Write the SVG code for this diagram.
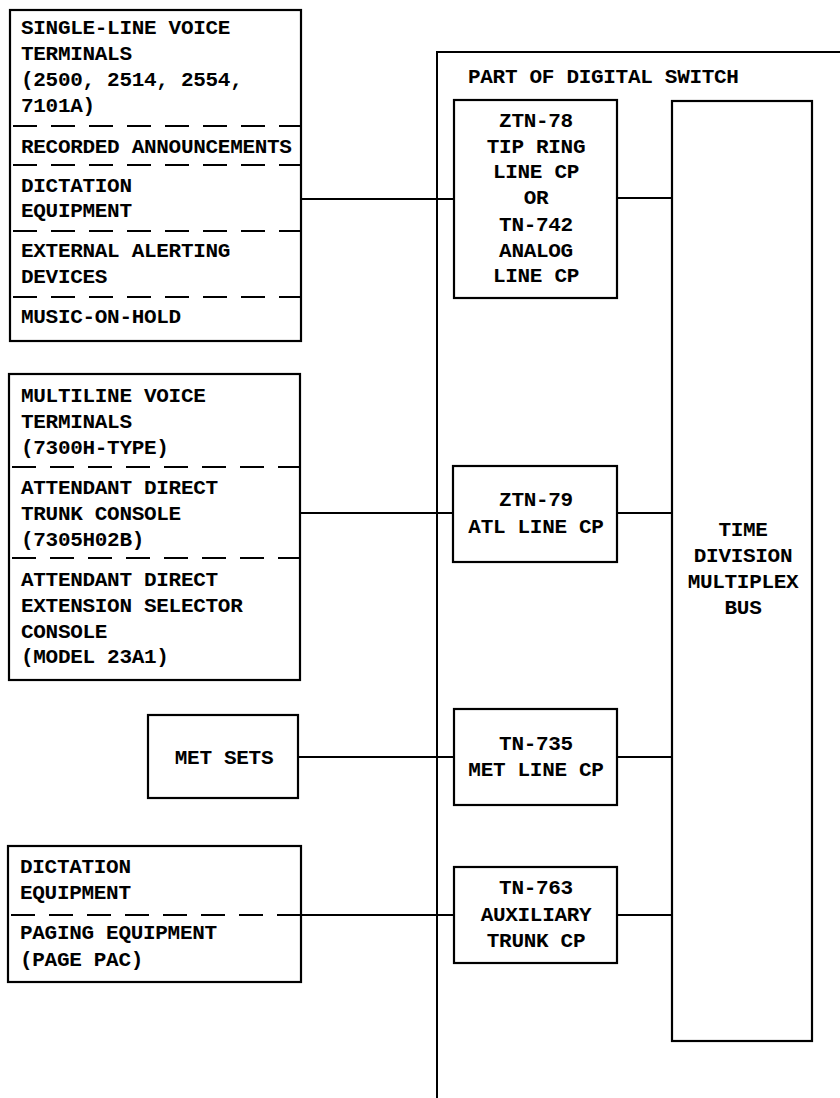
<svg xmlns="http://www.w3.org/2000/svg" width="840" height="1098" viewBox="0 0 840 1098">
<style>
.b{fill:none;stroke:#000;stroke-width:2.2}
.d{fill:none;stroke:#000;stroke-width:2.2;stroke-dasharray:24 14}
.l{fill:none;stroke:#000;stroke-width:2}
text{font-family:"Liberation Mono","DejaVu Sans Mono",monospace;font-weight:bold;font-size:21px;letter-spacing:-0.3px;fill:#000}
.c{text-anchor:middle}
</style>
<rect width="840" height="1098" fill="#fff"/>
<g id="switch">
<path class="l" d="M437 1098 V52 H840"/>
<text x="468" y="83">PART OF DIGITAL SWITCH</text>
</g>
<g id="connectors">
<path class="l" d="M301 199 H454 M617 198 H672"/>
<path class="l" d="M300 513 H453 M617 513 H672"/>
<path class="l" d="M298 757 H454 M617 757 H672"/>
<path class="l" d="M301 915 H454 M617 915 H672"/>
</g>
<g id="single-line">
<rect class="b" x="10" y="10" width="291" height="331"/>
<path class="d" d="M13 126 H301 M13 165 H301 M13 231 H301 M13 297 H301"/>
<text x="21" y="34">SINGLE-LINE VOICE</text>
<text x="21" y="60">TERMINALS</text>
<text x="21" y="86">(2500, 2514, 2554,</text>
<text x="21" y="112">7101A)</text>
<text x="21" y="153">RECORDED ANNOUNCEMENTS</text>
<text x="21" y="192">DICTATION</text>
<text x="21" y="217">EQUIPMENT</text>
<text x="21" y="257">EXTERNAL ALERTING</text>
<text x="21" y="283">DEVICES</text>
<text x="21" y="323">MUSIC-ON-HOLD</text>
</g>
<g id="multiline">
<rect class="b" x="9" y="374" width="291" height="306"/>
<path class="d" d="M12 467 H300 M12 558 H300"/>
<text x="21" y="402">MULTILINE VOICE</text>
<text x="21" y="428">TERMINALS</text>
<text x="21" y="454">(7300H-TYPE)</text>
<text x="21" y="494">ATTENDANT DIRECT</text>
<text x="21" y="520">TRUNK CONSOLE</text>
<text x="21" y="546">(7305H02B)</text>
<text x="21" y="586">ATTENDANT DIRECT</text>
<text x="21" y="612">EXTENSION SELECTOR</text>
<text x="21" y="638">CONSOLE</text>
<text x="21" y="663">(MODEL 23A1)</text>
</g>
<g id="met-sets">
<rect class="b" x="148" y="715" width="150" height="83"/>
<text x="224" y="764" class="c">MET SETS</text>
</g>
<g id="dictation-paging">
<rect class="b" x="8" y="846" width="293" height="136"/>
<path class="d" d="M11 915 H301"/>
<text x="20" y="873">DICTATION</text>
<text x="20" y="899">EQUIPMENT</text>
<text x="20" y="939">PAGING EQUIPMENT</text>
<text x="20" y="966">(PAGE PAC)</text>
</g>
<g id="ztn78">
<rect class="b" x="454" y="100" width="163" height="198"/>
<text x="536" y="127" class="c">ZTN-78</text>
<text x="536" y="153" class="c">TIP RING</text>
<text x="536" y="178" class="c">LINE CP</text>
<text x="536" y="204" class="c">OR</text>
<text x="536" y="231" class="c">TN-742</text>
<text x="536" y="257" class="c">ANALOG</text>
<text x="536" y="282" class="c">LINE CP</text>
</g>
<g id="ztn79">
<rect class="b" x="453" y="466" width="164" height="96"/>
<text x="536" y="506" class="c">ZTN-79</text>
<text x="536" y="533" class="c">ATL LINE CP</text>
</g>
<g id="tn735">
<rect class="b" x="454" y="709" width="163" height="96"/>
<text x="536" y="750" class="c">TN-735</text>
<text x="536" y="776" class="c">MET LINE CP</text>
</g>
<g id="tn763">
<rect class="b" x="454" y="867" width="163" height="96"/>
<text x="536" y="894" class="c">TN-763</text>
<text x="536" y="921" class="c">AUXILIARY</text>
<text x="536" y="947" class="c">TRUNK CP</text>
</g>
<g id="tdm-bus">
<rect class="b" x="672" y="101" width="140" height="940"/>
<text x="743" y="536" class="c">TIME</text>
<text x="743" y="562" class="c">DIVISION</text>
<text x="743" y="588" class="c">MULTIPLEX</text>
<text x="743" y="614" class="c">BUS</text>
</g>
</svg>
